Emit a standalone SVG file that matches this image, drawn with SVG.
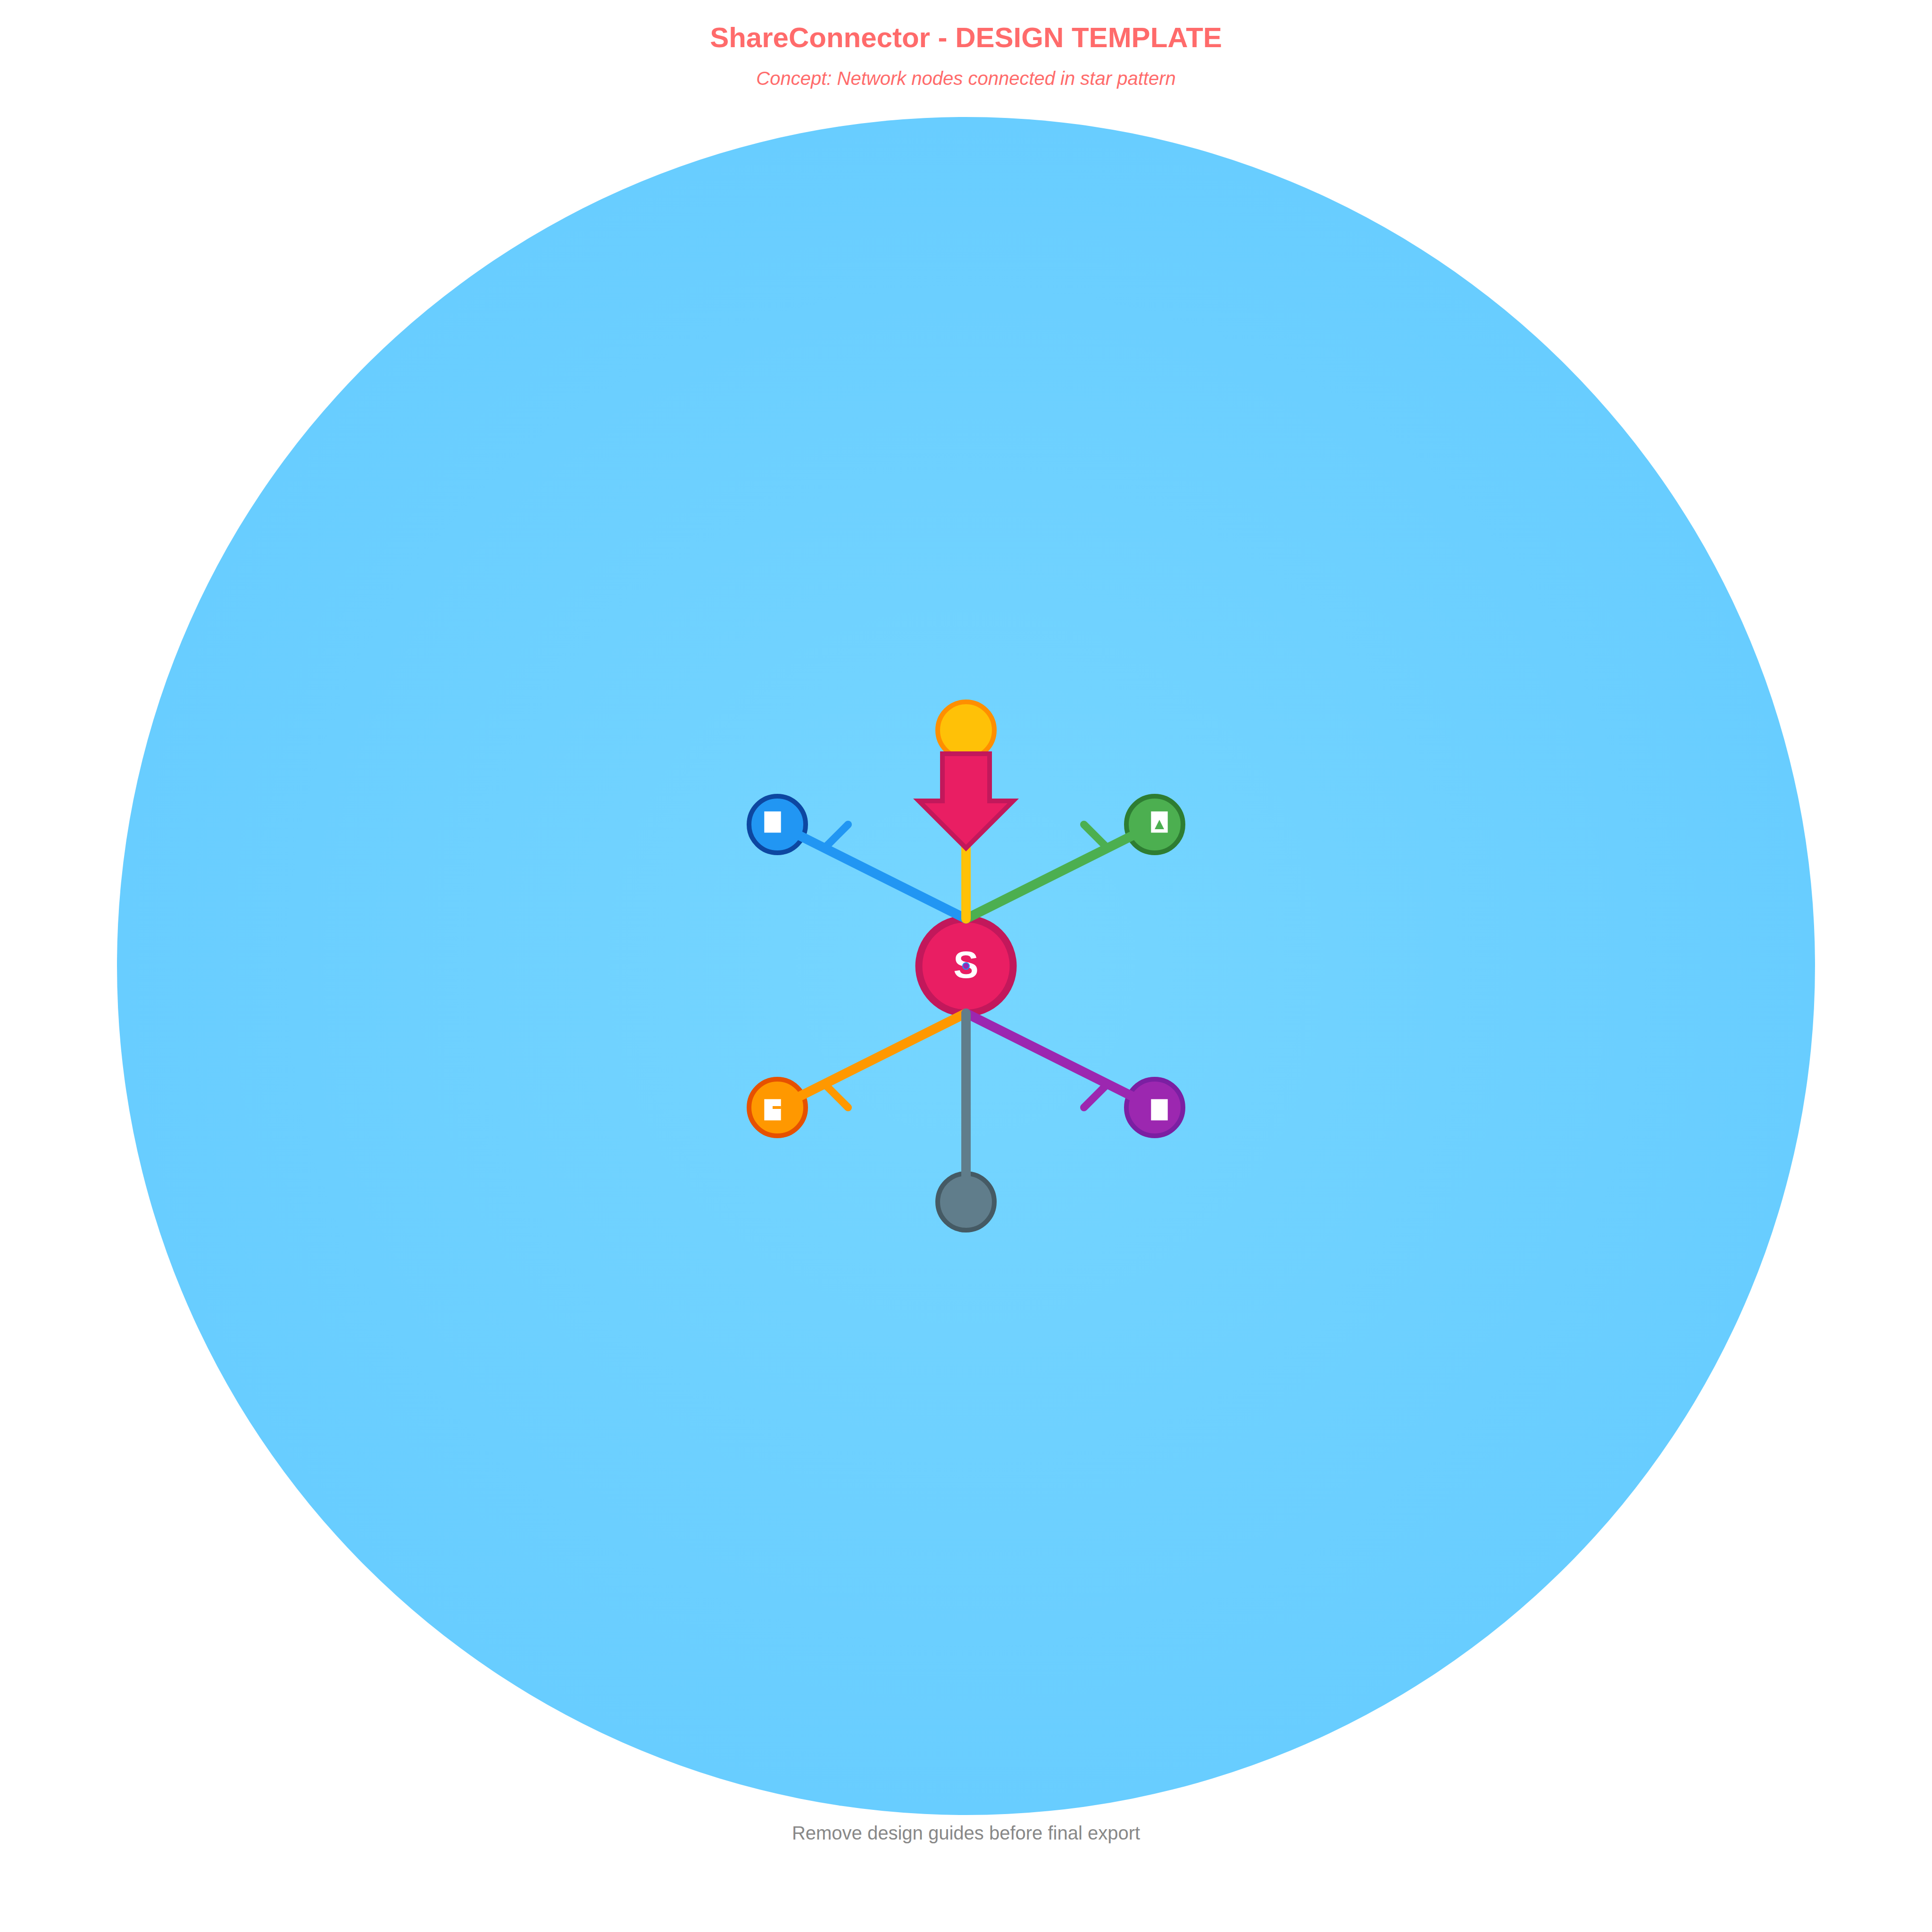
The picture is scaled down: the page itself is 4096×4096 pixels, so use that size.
<svg xmlns="http://www.w3.org/2000/svg" width="4096" height="4096" viewBox="0 0 4096 4096">
<defs>
<radialGradient id="bgGrad" cx="50%" cy="50%" r="50%">
<stop offset="0%" stop-color="#76D6FF"/>
<stop offset="100%" stop-color="#68CDFF"/>
</radialGradient>
</defs>
<style>
text{font-family:"Liberation Sans",Arial,sans-serif;text-anchor:middle}
.title{font-size:60px;font-weight:bold;fill:#FF6B6B}
.sub{font-size:40px;font-style:italic;fill:#FF6B6B}
.foot{font-size:40px;fill:#888888}
.letter{font-size:80px;font-weight:bold;fill:#FFFFFF}
.node{stroke-width:10}
.link{fill:none;stroke-width:20;stroke-linecap:round}
.twig{fill:none;stroke-width:16;stroke-linecap:round}
.icon{fill:#FFFFFF}
</style>
<rect width="4096" height="4096" fill="#FFFFFF"/>
<circle id="backdrop" cx="2048" cy="2048" r="1800" fill="url(#bgGrad)"/>
<text class="title" x="2048" y="100">ShareConnector - DESIGN TEMPLATE</text>
<text class="sub" x="2048" y="180">Concept: Network nodes connected in star pattern</text>
<text class="foot" x="2048" y="3900">Remove design guides before final export</text>
<g id="node-center">
<circle cx="2048" cy="2048" r="100" fill="#E91E63" stroke="#C2185B" stroke-width="15"/>
<text class="letter" x="2048" y="2073">S</text>
<circle cx="2048" cy="2048" r="7" fill="#9C27B0" stroke="#2196F3" stroke-width="2"/>
</g>
<g id="node-top"><circle class="node" cx="2048" cy="1548" r="60" fill="#FFC107" stroke="#FF8F00"/></g>
<g id="node-blue">
<circle class="node" cx="1648" cy="1748" r="60" fill="#2196F3" stroke="#0D47A1"/>
<rect class="icon" x="1620.3" y="1720.3" width="35.4" height="45"/>
</g>
<g id="node-green">
<circle class="node" cx="2448" cy="1748" r="60" fill="#4CAF50" stroke="#2E7D32"/>
<rect class="icon" x="2440.3" y="1720.3" width="35.4" height="45"/>
<polygon points="2458,1738 2468,1758 2448,1758" fill="#4CAF50"/>
</g>
<g id="node-orange">
<circle class="node" cx="1648" cy="2348" r="60" fill="#FF9800" stroke="#E65100"/>
<rect class="icon" x="1620.3" y="2330.3" width="35.4" height="45"/>
<rect x="1638" y="2345" width="17.7" height="6" fill="#FF9800"/>
</g>
<g id="node-purple">
<circle class="node" cx="2448" cy="2348" r="60" fill="#9C27B0" stroke="#7B1FA2"/>
<rect class="icon" x="2440.3" y="2330.3" width="35.4" height="45"/>
</g>
<g id="node-bottom"><circle class="node" cx="2048" cy="2548" r="60" fill="#607D8B" stroke="#455A64"/></g>
<g id="connectors">
<line class="link" x1="2048" y1="1948" x2="1688" y2="1768" stroke="#2196F3"/>
<line class="twig" x1="1748" y1="1798" x2="1798" y2="1748" stroke="#2196F3"/>
<line class="link" x1="2048" y1="1948" x2="2408" y2="1768" stroke="#4CAF50"/>
<line class="twig" x1="2348" y1="1798" x2="2298" y2="1748" stroke="#4CAF50"/>
<line class="link" x1="2048" y1="2148" x2="1688" y2="2328" stroke="#FF9800"/>
<line class="twig" x1="1748" y1="2298" x2="1798" y2="2348" stroke="#FF9800"/>
<line class="link" x1="2048" y1="2148" x2="2408" y2="2328" stroke="#9C27B0"/>
<line class="twig" x1="2348" y1="2298" x2="2298" y2="2348" stroke="#9C27B0"/>
<line class="link" x1="2048" y1="1948" x2="2048" y2="1608" stroke="#FFC107"/>
<line class="link" x1="2048" y1="2148" x2="2048" y2="2508" stroke="#607D8B"/>
</g>
<g id="arrow">
<polygon points="1998,1598 2098,1598 2098,1698 2148,1698 2048,1798 1948,1698 1998,1698" fill="#E91E63" stroke="#C2185B" stroke-width="10"/>
</g>
</svg>
